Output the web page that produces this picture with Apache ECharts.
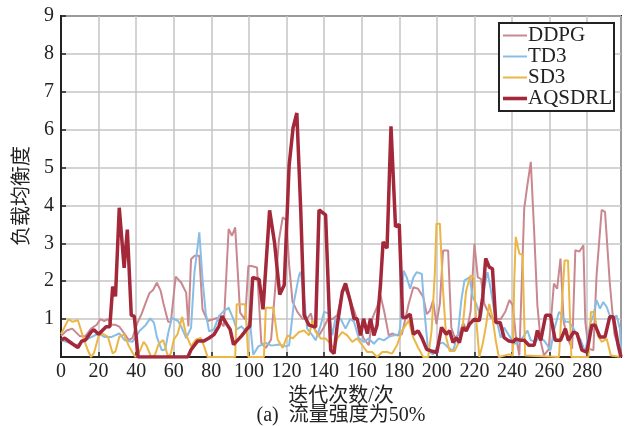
<!DOCTYPE html>
<html>
<head>
<meta charset="utf-8">
<script src="https://cdn.jsdelivr.net/npm/echarts@6/dist/echarts.min.js"></script>
<style>
html,body{margin:0;padding:0;background:#fff;}
#c{width:625px;height:426px;}
</style>
</head>
<body>
<div id="c"></div>
<script>
const seriesNames = ['DDPG', 'TD3', 'SD3', 'AQSDRL'];
const xTickValues = [0, 20, 40, 60, 80, 100, 120, 140, 160, 180, 200, 220, 240, 260, 280];
const yTickValues = [1, 2, 3, 4, 5, 6, 7, 8, 9];
const xTitle = '迭代次数/次';
const yTitle = '负载均衡度';
const caption = '(a)  流量强度为50%';

const ddpg = [[0,0.55],[3,0.7],[6,0.75],[10,0.55],[13,0.55],[16,0.75],[19,0.85],[21,1.0],[23,0.95],[25,1.0],[27,0.85],[29,0.85],[31,0.8],[34,0.6],[36,0.45],[38,0.5],[40.5,0.88],[43,1.15],[45,1.42],[47,1.68],[49,1.77],[51,1.96],[53,1.75],[54.5,1.42],[57,0.93],[58.5,0.93],[61,2.12],[64,1.96],[66.6,1.7],[67.8,0.81],[69.2,2.58],[71,2.67],[73.6,2.67],[75.3,1.26],[78,0.95],[80.5,0.99],[83,1.03],[86.6,0.81],[89.2,3.38],[91,3.2],[92.7,3.42],[95.3,1.17],[98,0.99],[99.7,2.4],[101.4,2.4],[104.3,2.36],[106.6,0.37],[109,0.24],[111.8,0.46],[113.5,1.5],[116,3.1],[118,3.69],[120,3.6],[121.4,2.43],[123.2,1.46],[125.8,1.19],[128.5,1.01],[131,1.01],[133,1.15],[134.7,0.75],[137.3,0.57],[140,0.8],[142,1.0],[144.4,1.0],[147,1.1],[150,1.75],[151.4,1.77],[153,1.6],[155.9,1.24],[158.5,0.84],[161,0.49],[163.8,0.31],[165.6,1.01],[168.2,1.32],[170,1.63],[172,1.2],[174.4,0.57],[176.2,0.62],[178.8,0.57],[181.4,0.6],[185,1.4],[187.5,1.84],[190,1.8],[192.8,1.58],[194.6,1.13],[196.3,1.22],[198,1.49],[199.8,0.87],[201.6,1.4],[203.3,2.81],[206,2.81],[207.7,0.78],[209.5,0.51],[212,0.6],[214,0.9],[216,0.7],[218,1.22],[220,2.99],[221.8,2.1],[223.5,2.06],[225.3,1.4],[228.8,1.04],[231,1.0],[234,1.0],[236.5,1.2],[238.6,1.5],[240.4,1.37],[242,0.57],[243.9,0.04],[246.5,3.92],[248.2,4.54],[250,5.15],[251.8,3.3],[253.5,1.37],[255.3,0.4],[257,0.04],[259.5,0.2],[262.3,1.94],[264,1.8],[265.8,2.6],[267.5,0.93],[269.5,0.5],[272,0.22],[273.7,2.82],[275.8,2.78],[278,2.95],[279,0.93],[280.7,0.22],[283.3,0.18],[285,2.16],[287.7,3.88],[289.5,3.83],[292,1.98],[294.5,0.6],[296.5,0.3],[298,0.1]];

const td3 = [[0,0.45],[3,0.4],[8,0.3],[12,0.42],[15,0.5],[20,0.62],[23,0.53],[27,0.53],[31,0.62],[34,0.44],[38,0.4],[42,0.7],[45,0.84],[47.5,1.02],[49.5,0.9],[51,0.53],[53.6,0.18],[55.5,0.2],[57,0.62],[59,1.03],[62.3,0.95],[64,0.8],[66.6,0.5],[69.2,0.77],[71,2.23],[73.6,3.29],[75.3,2.05],[77,1.17],[78.8,0.68],[81.4,0.73],[84,1.08],[86.6,1.21],[89.2,1.3],[91.8,0.99],[93.5,0.73],[96,0.81],[98,0.7],[100.5,0.95],[102.3,0.06],[105,0.28],[109,0.37],[112,0.3],[116,0.33],[119.7,0.28],[121.4,0.31],[124,1.46],[126.7,2.16],[127.6,2.25],[129.4,1.54],[131,0.75],[133.8,0.57],[135.5,0.44],[138.2,0.84],[140,1.19],[142.6,1.15],[144.4,0.57],[146,1.01],[148.8,1.01],[151.4,0.75],[154,1.01],[155.9,0.93],[158.5,0.49],[161.2,0.4],[163.8,0.49],[166.5,0.35],[169.1,0.49],[171.8,0.44],[174.4,0.53],[177,0.57],[179.7,0.6],[180.5,0.78],[182.3,2.28],[184,2.1],[185.8,1.8],[187.5,2.1],[189.3,2.24],[192,2.19],[193.7,1.04],[195.4,0.16],[198,0.07],[200.7,0.34],[203.3,0.38],[206,0.25],[208.6,0.16],[211.2,0.6],[213,1.49],[214.7,2.02],[217.4,2.1],[219.1,1.58],[221,1.4],[223.5,1.04],[225.3,1.84],[227,2.24],[228.8,1.75],[230.5,1.22],[232.3,0.87],[234,0.51],[235.8,0.78],[238,0.6],[241.2,0.35],[243.9,0.4],[246.5,0.57],[248.2,0.7],[250,0.44],[252.6,0.4],[254.4,0.53],[257,0.44],[258.8,0.31],[260.5,0.18],[262.3,0.7],[265,1.19],[266.7,1.1],[268.4,0.93],[270.2,0.93],[272.8,0.75],[274.6,0.57],[276.3,0.48],[279,0.13],[281.6,0.88],[283.3,1.1],[285,1.5],[286.8,1.28],[288.6,1.45],[290.4,1.32],[292,1.1],[293.9,1.01],[295.6,1.1],[297.4,0.75],[298,0.22]];

const sd3 = [[0,0.6],[4,1.0],[6,0.93],[9,0.97],[12,0.49],[14.5,0.15],[16,0],[17.5,0.1],[20,0.55],[22,0.62],[25,0.53],[27.5,0.09],[29,0.15],[31,0.53],[33.6,0.6],[36,0.3],[38,0.12],[39.6,0],[41,0.05],[44,0.4],[45.5,0.3],[48,0],[50,0.05],[52,0.35],[54.4,0.45],[57,0],[58.5,0.1],[60,0.46],[62,0.6],[64.5,1.06],[66.5,0.6],[69.2,0.28],[71.8,0.46],[74.4,0.5],[76.2,0.28],[78,0],[92.7,0],[93.5,1.39],[98,1.39],[99.7,0],[108,0],[109,1.3],[113,1.3],[115.3,0.46],[118,0.24],[120.5,0.57],[123.2,0.49],[126.7,0.66],[129.4,0.7],[132,0.57],[133.8,0.97],[135.5,0.66],[138.2,0.49],[140.8,0.49],[143.5,0.35],[145.3,0.22],[147,0.49],[149.7,0.66],[152.3,0.57],[155,0.4],[157.6,0.49],[160.3,0.31],[163,0.13],[165.6,0.13],[168.2,0],[171,0.13],[173.5,0.13],[176.2,0.09],[178.8,0.31],[181.4,0.69],[185,0.96],[187.5,0.51],[190,0.25],[192.8,0],[195.4,0],[197.2,0.69],[199,2.28],[199.8,3.52],[201.6,3.52],[203.3,1.75],[205,0.51],[206.8,0.16],[209.5,0.16],[212,0.42],[213.9,0.87],[215.6,1.75],[217.9,2.15],[219.6,2.1],[220.9,1.04],[222.6,0],[224.4,0.34],[226,0.78],[227.9,1.4],[229.6,1.04],[231.4,0.42],[233,0],[238.4,0.07],[240.4,0.04],[241.2,2.0],[242,3.17],[243.9,2.73],[245.6,2.69],[247,0.04],[265,0],[266.7,1.54],[268,2.55],[269.8,2.55],[271.6,0],[280.7,0],[282,1.19],[283.9,1.19],[285.6,0.57],[287.7,0.4],[290.4,0.48],[292.6,0.04],[298,0]];

const aqsdrl = [[0,0.45],[2,0.5],[6,0.35],[9,0.25],[11,0.42],[13,0.45],[16,0.66],[17.5,0.72],[20,0.6],[22,0.7],[24,0.8],[26,0.8],[27.5,1.86],[29,1.6],[31,3.94],[33.6,2.35],[35.3,3.36],[37.4,1.1],[39,1.08],[41,0],[67.5,0],[69.2,0.19],[72.7,0.42],[76,0.42],[78.8,0.5],[81.4,0.59],[84,0.81],[85.7,1.08],[88.3,0.86],[90,0.73],[91.8,0.33],[93.5,0.42],[96,0.55],[98.8,0.73],[100.5,0.81],[102,2.1],[105.4,2.05],[107.5,1.26],[111,3.87],[113.6,3.03],[116.4,1.65],[118.8,1.9],[121.4,5.06],[123.5,6.05],[125.5,6.44],[127.6,3.84],[129.4,1.1],[132,0.84],[135.5,0.79],[137.3,3.88],[140.8,3.75],[143.5,0.18],[145.3,0.09],[147,0.84],[149.7,1.72],[151.4,1.94],[154,1.46],[155.9,1.01],[157.6,1.01],[159.4,0.57],[161,1.01],[163,0.62],[164.7,1.01],[166.5,0.57],[168.2,0.84],[170,1.9],[171.4,3.04],[173.5,2.87],[175.6,6.09],[178,3.44],[180,3.5],[181.8,1.04],[183.5,1.04],[185.8,1.13],[187.5,0.6],[190,0.69],[192,0.51],[194.6,0.2],[197,0.16],[200,0.12],[202.5,0.78],[205,0.6],[206.8,0.69],[208.6,0.38],[210.4,0.51],[212,0.38],[213.9,0.78],[215.6,0.69],[217.4,0.87],[220,1.0],[222.6,0.96],[224.4,1.58],[226,2.6],[227.9,2.37],[229.6,2.33],[231.4,0.91],[233.7,0.91],[235.8,0.51],[238.4,0.42],[240.7,0.4],[242,0.48],[244.7,0.44],[246.5,0.44],[249,0.31],[251.8,0.31],[253.5,0.7],[255.3,0.44],[257.9,1.1],[260.5,1.1],[263,0.44],[265.8,0.44],[268.4,0.75],[270,0.44],[272.8,0.66],[274.6,0.62],[277.2,0.18],[279.8,0.13],[282.5,0.84],[284.2,0.84],[286.8,0.53],[289.5,0.53],[292,1.06],[293.9,1.06],[296.5,0.31],[298,0]];

const seriesData = [ddpg, td3, sd3, aqsdrl];
const colors = ['#c98890', '#88bde5', '#ebb646', '#a3283a'];
const widths = [2, 2, 2, 3.5];
const legendIcons = [
  'path://M0,0M0,5.5L24,5.5L24,7.5L0,7.5ZM24,13',
  'path://M0,0M0,5.5L24,5.5L24,7.5L0,7.5ZM24,13',
  'path://M0,0M0,5.5L24,5.5L24,7.5L0,7.5ZM24,13',
  'path://M0,0M0,4.7L24,4.7L24,8.3L0,8.3ZM24,13'
];

const serif = '"Liberation Serif", "Times New Roman", Times, "DejaVu Serif", "Noto Sans CJK SC", serif';
const chart = echarts.init(document.getElementById('c'), null, {renderer: 'canvas'});
chart.setOption({
  animation: false,
  backgroundColor: '#fff',
  grid: {left: 61, right: 4, top: 16, bottom: 69, show: true, borderColor: '#222', borderWidth: 2, backgroundColor: 'transparent'},
  legend: {
    data: seriesNames.map((n, i) => ({name: n, icon: legendIcons[i], itemStyle: {color: colors[i], borderWidth: 0}})),
    orient: 'vertical',
    right: 11, top: 23,
    itemWidth: 24, itemHeight: 13, itemGap: 0,
    symbolKeepAspect: false,
    padding: [2, 2, 2, 4],
    borderColor: '#222', borderWidth: 2, backgroundColor: '#fff',
    itemStyle: {borderWidth: 0},
    textStyle: {fontFamily: serif, fontSize: 21, color: '#222', lineHeight: 21, padding: [0, 0, 0, -4]}
  },
  xAxis: {
    type: 'value', min: 0, max: 298, interval: 20,
    name: xTitle, nameLocation: 'middle', nameGap: 27,
    nameTextStyle: {fontFamily: serif, fontSize: 20, color: '#222'},
    axisLine: {show: true, lineStyle: {color: '#222', width: 2}},
    axisTick: {show: true, inside: true, length: 5, lineStyle: {color: '#222', width: 1.5}},
    axisLabel: {fontFamily: serif, fontSize: 20, color: '#222', margin: 5, showMaxLabel: false,
      formatter: v => xTickValues.indexOf(v) >= 0 ? String(v) : ''},
    splitLine: {show: true, lineStyle: {color: '#c4c4c4', width: 1.5}}
  },
  yAxis: {
    type: 'value', min: 0, max: 9, interval: 1,
    axisLine: {show: true, lineStyle: {color: '#222', width: 2}},
    axisTick: {show: true, inside: true, length: 5, lineStyle: {color: '#222', width: 1.5}},
    axisLabel: {fontFamily: serif, fontSize: 20, color: '#222', margin: 7, showMinLabel: false,
      formatter: v => yTickValues.indexOf(v) >= 0 ? String(v) : ''},
    splitLine: {show: true, lineStyle: {color: '#c4c4c4', width: 1.5}}
  },
  graphic: [{
    type: 'text', x: 23, y: 196, rotation: Math.PI / 2,
    style: {text: yTitle, font: '20px ' + serif, fill: '#222', align: 'center', verticalAlign: 'middle'}
  }, {
    type: 'text', x: 341, y: 416,
    style: {text: caption, font: '20px ' + serif, fill: '#222', align: 'center', verticalAlign: 'middle'}
  }],
  series: seriesNames.map((n, i) => ({
    name: n, type: 'line', data: seriesData[i], symbol: 'none',
    z: 2 + i,
    color: colors[i],
    lineStyle: {color: colors[i], width: widths[i]},
    emphasis: {disabled: true}
  }))
});
</script>
</body>
</html>
